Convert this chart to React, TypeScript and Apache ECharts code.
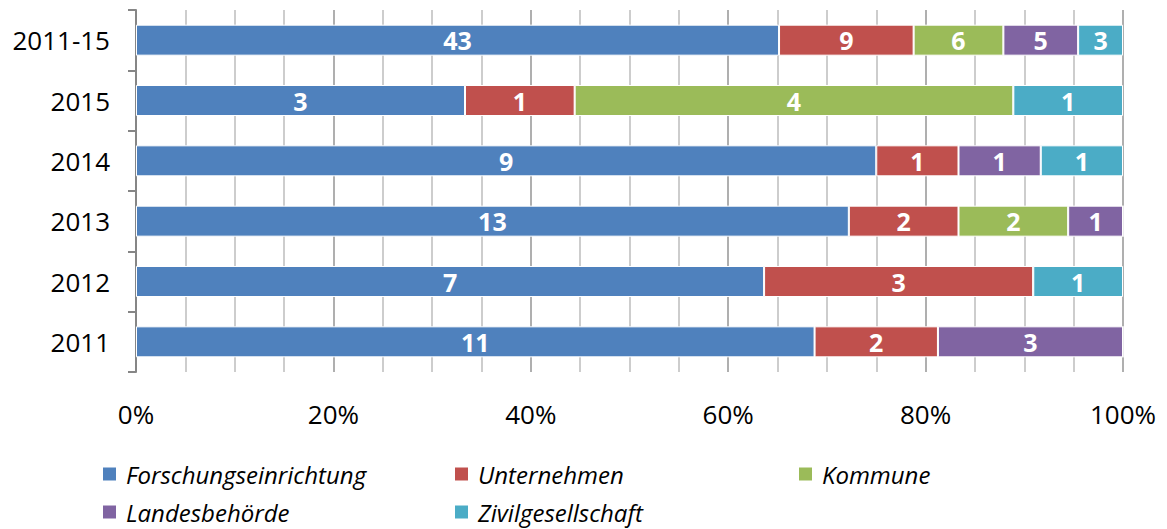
import React, { useEffect, useRef } from "react";
import * as echarts from "echarts";

const categories = ["2011-15", "2015", "2014", "2013", "2012", "2011"];
const forschung = [43, 3, 9, 13, 7, 11];
const unternehmen = [9, 1, 1, 2, 3, 2];
const kommune = [6, 4, 0, 2, 0, 0];
const landes = [5, 0, 1, 1, 0, 3];
const zivil = [3, 1, 1, 0, 1, 0];
const xTicks = ["0%", "20%", "40%", "60%", "80%", "100%"];

const seriesDefs = [
  { name: "Forschungseinrichtung", values: forschung, color: "#4F81BD" },
  { name: "Unternehmen", values: unternehmen, color: "#C0504D" },
  { name: "Kommune", values: kommune, color: "#9BBB59" },
  { name: "Landesbehörde", values: landes, color: "#8064A2" },
  { name: "Zivilgesellschaft", values: zivil, color: "#4BACC6" },
];

const legendPos: Record<string, [number, number]> = {
  Forschungseinrichtung: [101, 460],
  Unternehmen: [453, 460],
  Kommune: [797, 460],
  Landesbehörde: [101, 498],
  Zivilgesellschaft: [453, 498],
};

const FONT = "Open Sans";

export default function App() {
  const ref = useRef<HTMLDivElement>(null);
  useEffect(() => {
    if (!ref.current) return;
    const chart = echarts.init(ref.current, null, { renderer: "svg" });
    const totals = categories.map((_, i) =>
      seriesDefs.reduce((s, d) => s + d.values[i], 0)
    );
    const legendText = {
      fontFamily: FONT,
      fontStyle: "italic" as const,
      fontSize: 24,
      lineHeight: 28,
      color: "#000",
      padding: [0, 0, 0, 4],
    };
    chart.setOption({
      animation: false,
      grid: { left: 136, right: 44, top: 10, bottom: 157 },
      xAxis: {
        type: "value",
        min: 0,
        max: 100,
        interval: 20,
        axisLine: { show: false },
        axisTick: { show: false },
        axisLabel: {
          margin: 29,
          fontFamily: FONT,
          fontSize: 26,
          color: "#000",
          formatter: (v: number) => xTicks[Math.round(v / 20)],
        },
        splitLine: { show: true, lineStyle: { color: "#949494", width: 1.5 } },
        minorTick: { show: false, splitNumber: 4 },
        minorSplitLine: { show: true, lineStyle: { color: "#bdbdbd", width: 1.5 } },
      },
      yAxis: {
        type: "category",
        data: categories,
        inverse: true,
        axisLine: { show: true, lineStyle: { color: "#868686", width: 2 } },
        axisTick: { show: true, length: 8, lineStyle: { color: "#868686", width: 2 } },
        axisLabel: {
          margin: 26,
          fontFamily: FONT,
          fontSize: 26,
          color: "#000",
        },
        splitLine: { show: false },
      },
      legend: seriesDefs.map((d) => ({
        left: legendPos[d.name][0],
        top: legendPos[d.name][1],
        padding: 0,
        itemWidth: 15,
        itemHeight: 15,
        itemGap: 0,
        icon: "rect",
        textStyle: legendText,
        data: [d.name],
      })),
      series: seriesDefs.map((d) => ({
        name: d.name,
        type: "bar",
        stack: "total",
        barWidth: 31,
        data: d.values.map((v, i) => (v / totals[i]) * 100),
        itemStyle: { color: d.color, borderColor: "#fff", borderWidth: 1 },
        label: {
          show: true,
          position: "inside",
          color: "#fff",
          fontFamily: FONT,
          fontWeight: "bold",
          fontSize: 25,
          formatter: (p: any) => {
            const c = d.values[p.dataIndex];
            return c ? String(c) : "";
          },
        },
      })),
    });
    return () => chart.dispose();
  }, []);
  return <div ref={ref} style={{ width: 1167, height: 529, position: "absolute", left: 0, top: 0 }} />;
}
